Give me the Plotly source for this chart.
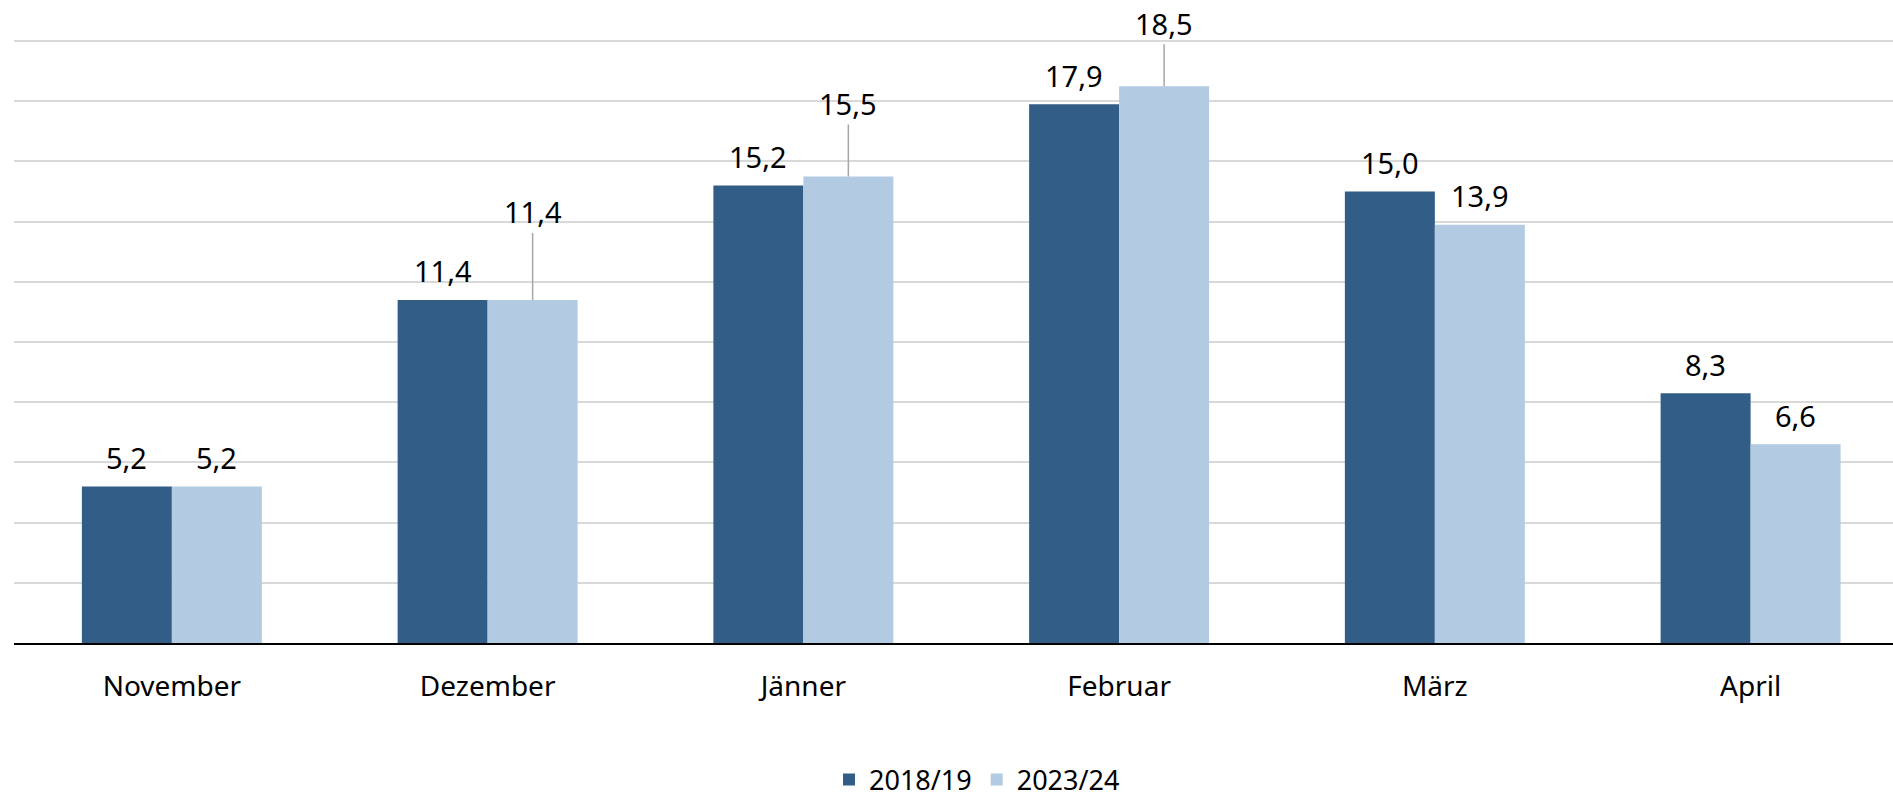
import plotly.graph_objects as go

months = ["November", "Dezember", "Jänner", "Februar", "März", "April"]
series_names = ["2018/19", "2023/24"]
values_2018 = [5.2, 11.4, 15.2, 17.9, 15.0, 8.3]
values_2023 = [5.2, 11.4, 15.5, 18.5, 13.9, 6.6]
# labels raised with a leader line (only on the 2023/24 series)
leader_2023 = [None, 88, 73, 63, None, None]

dark = "#315D86"
light = "#B2CBE2"
font_family = "Noto Sans, Open Sans, sans-serif"
fs_lab = 29
fs_cat = 28
fs_leg = 27

W, H = 1893, 800
ml, mr, mt, mb = 14, 0, 32, 157
bargap = 0.43
x_range = [-0.5, 5.451]
cat_w = (W - ml - mr) / (x_range[1] - x_range[0])
bar_w = cat_w * (1 - bargap) / 2


def fmt(v):
    return f"{v:.1f}".replace(".", ",")


fig = go.Figure()
fig.add_trace(go.Bar(x=months, y=values_2018, name=series_names[0],
                     marker=dict(color=dark, line=dict(width=0))))
fig.add_trace(go.Bar(x=months, y=values_2023, name=series_names[1],
                     marker=dict(color=light, line=dict(width=0))))

annotations = []
for m, v in zip(months, values_2018):
    annotations.append(dict(x=m, y=v, xref="x", yref="y", text=fmt(v),
                            showarrow=False, xshift=-bar_w / 2, yshift=29,
                            yanchor="middle",
                            font=dict(size=fs_lab, color="#000000", family=font_family)))
for m, v, ld in zip(months, values_2023, leader_2023):
    if ld is None:
        annotations.append(dict(x=m, y=v, xref="x", yref="y", text=fmt(v),
                                showarrow=False, xshift=bar_w / 2, yshift=29,
                                yanchor="middle",
                                font=dict(size=fs_lab, color="#000000", family=font_family)))
    else:
        annotations.append(dict(x=m, y=v, xref="x", yref="y", text=fmt(v),
                                showarrow=True, arrowhead=0, arrowwidth=1.5,
                                arrowcolor="#A6A6A6", ax=0, ay=-ld,
                                xshift=bar_w / 2, standoff=0,
                                font=dict(size=fs_lab, color="#000000", family=font_family)))

fig.update_layout(
    width=W, height=H,
    margin=dict(l=ml, r=mr, t=mt, b=mb, pad=0),
    paper_bgcolor="white", plot_bgcolor="white",
    barmode="group", bargap=bargap, bargroupgap=0,
    font=dict(family=font_family, size=fs_cat, color="#000000"),
    showlegend=True,
    legend=dict(orientation="h", x=0.5125, xanchor="center",
                yref="container", y=0.025, yanchor="middle",
                font=dict(size=fs_leg, family=font_family, color="#000000"),
                itemwidth=30, traceorder="normal"),
    annotations=annotations,
)
fig.update_xaxes(range=x_range, showline=True, linecolor="#000000", linewidth=2,
                 showgrid=False, ticks="", ticklabelstandoff=17,
                 tickfont=dict(size=fs_cat, family=font_family, color="#000000"))
fig.update_yaxes(range=[0, 20.3], tick0=0, dtick=2, showgrid=True, gridcolor="#D9D9D9",
                 gridwidth=1.5, showticklabels=False, zeroline=False,
                 showline=False, ticks="")

fig.write_html("out.html", config={"displayModeBar": False},
               post_script="document.body.style.margin='0';document.body.style.overflow='hidden';")
